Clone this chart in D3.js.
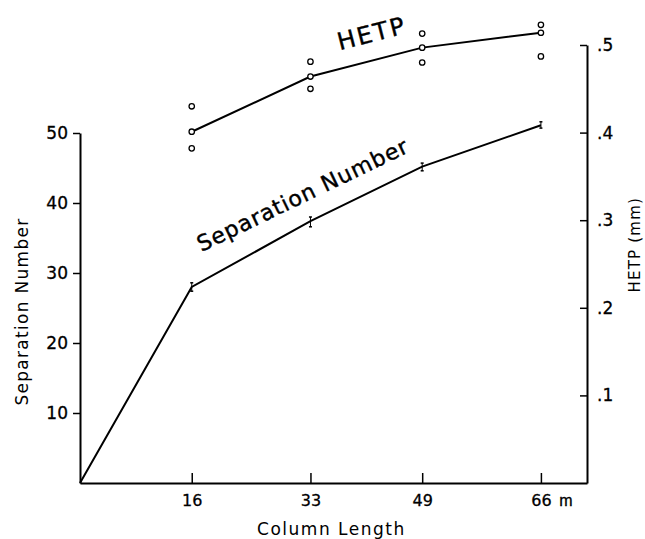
<!DOCTYPE html>
<html><head><meta charset="utf-8">
<script src="https://cdn.jsdelivr.net/npm/d3@7"></script>
<style>
html,body{margin:0;padding:0;background:#fff;}
svg{display:block;font-family:"DejaVu Sans",sans-serif;}
</style></head>
<body>
<svg id="chart" width="645" height="539"></svg>
<script>
// Column length (m)
const columnLength = [0, 16, 33, 49, 66];
const sepNumber = [0, 28.0, 37.4, 45.2, 51.1];
const sepLengths = [16, 33, 49, 66];
const sepHigh = [28.6, 38.0, 45.7, 51.6];
const sepLow = [27.4, 36.6, 44.6, 50.7];
// HETP (mm)
const hetpLengths = [16, 33, 49, 66];
const hetpMean = [0.401, 0.464, 0.497, 0.514];
const hetpHigh = [0.430, 0.481, 0.513, 0.523];
const hetpLow = [0.382, 0.450, 0.480, 0.487];
// ticks
const xTicks = [16, 33, 49, 66];
const sepTicks = [10, 20, 30, 40, 50];
const hetpTicks = [0.1, 0.2, 0.3, 0.4, 0.5];
const hetpTickLabels = [".1", ".2", ".3", ".4", ".5"];

const svg = d3.select("#chart");
const x = d3.scaleLinear().domain([0, 72.6]).range([80, 587]);
const yS = d3.scaleLinear().domain([0, 50]).range([483, 133]);
const yH = d3.scaleLinear().domain([0, 0.5]).range([483, 45]);

function styleAxis(g, fs) {
  g.select(".domain").attr("stroke", "#000").attr("stroke-width", 2);
  g.selectAll(".tick line").attr("stroke", "#000").attr("stroke-width", 1.5);
  g.selectAll(".tick text").attr("fill", "#000").attr("stroke", "#000").attr("stroke-width", 0.3)
    .style("font-size", fs + "px").style("font-family", "DejaVu Sans, sans-serif");
}

// left axis
const gL = svg.append("g").attr("transform", "translate(80,0)")
  .call(d3.axisLeft(yS).tickValues(sepTicks).tickSizeInner(7).tickSizeOuter(0).tickPadding(5).tickFormat(d3.format("d")));
styleAxis(gL, 17);

// right axis
const gR = svg.append("g").attr("transform", "translate(587,0)")
  .call(d3.axisRight(yH).tickValues(hetpTicks).tickSizeInner(-7).tickSizeOuter(0).tickPadding(10)
    .tickFormat((d, i) => hetpTickLabels[i]));
styleAxis(gR, 17);

// bottom axis
const gB = svg.append("g").attr("transform", "translate(0,483)")
  .call(d3.axisBottom(x).tickValues(xTicks).tickSizeInner(-10).tickSizeOuter(0).tickPadding(12).tickFormat(d3.format("d")));
styleAxis(gB, 16);
gB.append("text").attr("x", x(66) + 25).attr("y", 12).attr("dy", "0.71em")
  .attr("text-anchor", "middle").attr("fill", "#000").attr("stroke", "#000").attr("stroke-width", 0.3)
  .style("font-size", "16px").text("m");

// axis titles
svg.append("text").attr("x", x(36)).attr("y", 535).attr("text-anchor", "middle")
  .style("font-size", "17px").style("letter-spacing", "1.5px").text("Column Length");
svg.append("text").attr("transform", "translate(28," + yS(24.5) + ") rotate(-90)")
  .attr("text-anchor", "middle").style("font-size", "17px").style("letter-spacing", "1.3px").text("Separation Number");
svg.append("text").attr("transform", "translate(640," + yH(0.272) + ") rotate(-90)")
  .attr("text-anchor", "middle").style("font-size", "15px").style("letter-spacing", "1.2px").text("HETP (mm)");

// separation number line
const lineS = d3.line().x((d, i) => x(columnLength[i])).y(d => yS(d));
svg.append("path").datum(sepNumber).attr("d", lineS)
  .attr("fill", "none").attr("stroke", "#000").attr("stroke-width", 2);
// separation number scatter marks
sepLengths.forEach((L, i) => {
  svg.append("line").attr("x1", x(L)).attr("x2", x(L)).attr("y1", yS(sepLow[i])).attr("y2", yS(sepHigh[i]))
    .attr("stroke", "#000").attr("stroke-width", 1);
  [sepLow[i], sepHigh[i]].forEach(v => {
    svg.append("line").attr("x1", x(L) - 1.5).attr("x2", x(L) + 1.5).attr("y1", yS(v)).attr("y2", yS(v))
      .attr("stroke", "#000").attr("stroke-width", 1.5);
  });
});

// HETP line
const lineH = d3.line().x((d, i) => x(hetpLengths[i])).y(d => yH(d));
svg.append("path").datum(hetpMean).attr("d", lineH)
  .attr("fill", "none").attr("stroke", "#000").attr("stroke-width", 2);
[hetpMean, hetpHigh, hetpLow].forEach(arr => {
  svg.selectAll(null).data(arr).enter().append("circle")
    .attr("cx", (d, i) => x(hetpLengths[i])).attr("cy", d => yH(d)).attr("r", 2.7)
    .attr("fill", "#fff").attr("stroke", "#000").attr("stroke-width", 1.3);
});

// in-plot labels
svg.append("text").attr("transform", "translate(" + x(17.4) + "," + yS(33.0) + ") rotate(-25.7)")
  .attr("stroke", "#000").attr("stroke-width", 0.4)
  .style("font-size", "22px").style("letter-spacing", "1px").text("Separation Number");
svg.append("text").attr("transform", "translate(" + x(37.2) + "," + yH(0.494) + ") rotate(-14.4)")
  .attr("stroke", "#000").attr("stroke-width", 0.4)
  .style("font-size", "24px").style("letter-spacing", "2px").text("HETP");
</script>
</body></html>
